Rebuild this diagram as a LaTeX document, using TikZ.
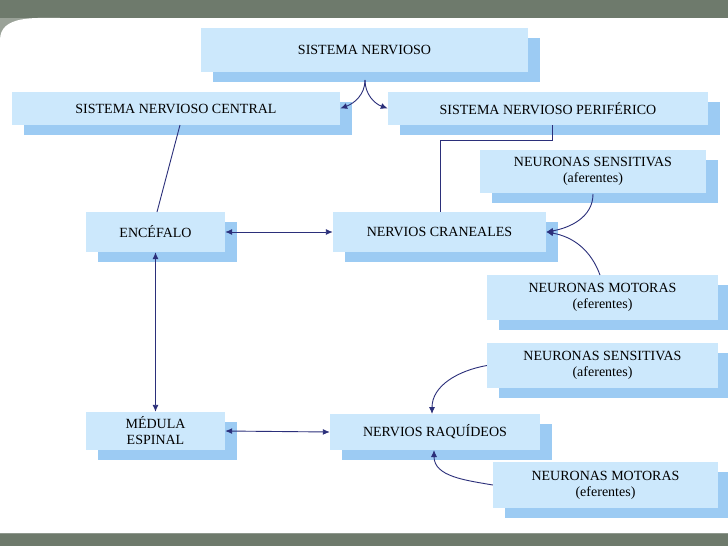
\documentclass[tikz,border=0pt]{standalone}
\usepackage{fontspec}
\setmainfont{Liberation Serif}
\usetikzlibrary{shadows,arrows.meta}
\definecolor{frontb}{HTML}{CCE8FC}
\definecolor{shadb}{HTML}{9CCBF3}
\definecolor{navy}{HTML}{2B2F7A}
\definecolor{frame}{HTML}{6E7A6C}
\begin{document}
\begin{tikzpicture}[x=1pt,y=-1pt,
  bx/.style={fill=frontb,draw=none,align=center,font=\fontsize{14}{16}\selectfont,inner sep=0pt,
    drop shadow={shadow xshift=12pt,shadow yshift=-10pt,fill=shadb,opacity=1}},
  con/.style={draw=navy,line width=0.9pt},
  arr/.style={con,-{Latex[length=7pt,width=6pt]}},
  darr/.style={con,{Latex[length=7pt,width=6pt]}-{Latex[length=7pt,width=6pt]}}]
\useasboundingbox (0,0) rectangle (728,546);
\fill[white] (0,0) rectangle (728,546);
\fill[frame] (0,0) rectangle (728,18);
\fill[frame] (0,533) rectangle (728,546);
\fill[white] (30,24) to[out=180,in=0] (0,40) -- (0,533) -- (728,533) -- (728,18) -- (70,18) to[out=180,in=0] cycle;
\fill[frame!70] (0,18) rectangle (60,40);
\fill[white] (0,533) -- (0,40) to[out=90,in=180] (60,18) -- (728,18) -- (728,533) -- cycle;
% boxes
\node[bx,minimum width=327,minimum height=44] (sn) at (364.5,50) {SISTEMA NERVIOSO};
\node[bx,minimum width=328,minimum height=33] (snc) at (176,108.5) {SISTEMA NERVIOSO CENTRAL};
\node[bx,minimum width=320,minimum height=33] (snp) at (548,108.5) {SISTEMA NERVIOSO PERIFÉRICO};
\node[bx,minimum width=226,minimum height=43] (ns1) at (593,171.5) {NEURONAS SENSITIVAS\\(aferentes)};
\node[bx,minimum width=139,minimum height=40] (enc) at (155.5,232) {ENCÉFALO};
\node[bx,minimum width=213,minimum height=40] (nc) at (439.5,232) {NERVIOS CRANEALES};
\node[bx,minimum width=231,minimum height=45] (nm1) at (602.5,297.5) {NEURONAS MOTORAS\\(eferentes)};
\node[bx,minimum width=231,minimum height=45] (ns2) at (602.5,365.5) {NEURONAS SENSITIVAS\\(aferentes)};
\node[bx,minimum width=139,minimum height=38] (med) at (155.5,431) {MÉDULA\\ESPINAL};
\node[bx,minimum width=210,minimum height=36] (nr) at (435,432) {NERVIOS RAQUÍDEOS};
\node[bx,minimum width=225,minimum height=46] (nm2) at (605.5,485) {NEURONAS MOTORAS\\(eferentes)};
% connectors
\coordinate (snb) at (365,80);
\draw[arr] (snb) to[out=-90,in=20] (snc.east);
\draw[arr] (snb) to[out=-90,in=160] (snp.west);
\draw[con] (180,125) -- (157,212);
\draw[con] (552,125) -- (552,140) -- (440,140) -- (440,212);
\draw[darr] (enc.east) -- (nc.west);
\draw[darr] (enc.south) -- (med.north);
\draw[darr] (med.east) -- (nr.west);
\draw[arr] (593,194) to[out=-90,in=10] (nc.east);
\draw[arr] (600,275) to[out=110,in=-10] (nc.east);
\draw[arr] (ns2.west) to[out=190,in=90] (432,414);
\draw[arr] (nm2.west) to[out=170,in=-90] (434,450);
\end{tikzpicture}
\end{document}
